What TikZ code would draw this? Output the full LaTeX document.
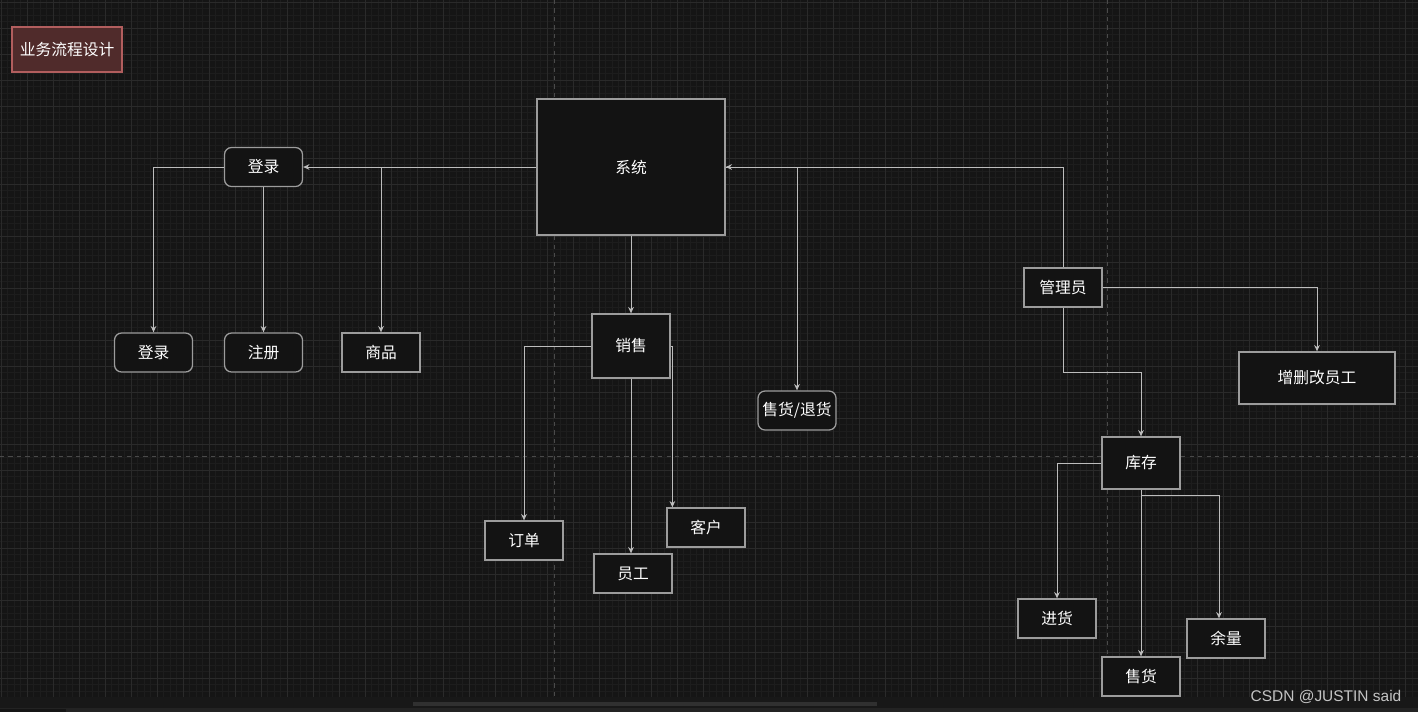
\documentclass[tikz,border=0pt]{standalone}
\usepackage{fontspec}
\newfontfamily\cjk{Noto Sans CJK SC}
\newfontfamily\wmfont{Liberation Sans}
\usepackage{xcolor}
\usepackage{tikz}
\usetikzlibrary{arrows.meta, calc}

\definecolor{canvasbg}{HTML}{151515}
\definecolor{gridminor}{HTML}{1D1D1D}
\definecolor{gridmajor}{HTML}{2A2A2A}
\definecolor{pageline}{HTML}{4A4A4A}
\definecolor{boxfill}{HTML}{131313}
\definecolor{boxline}{HTML}{9C9C9C}
\definecolor{wire}{HTML}{BDBDBD}
\definecolor{titlefill}{HTML}{502B2B}
\definecolor{titleline}{HTML}{B25E5E}
\definecolor{barbg}{HTML}{181818}
\definecolor{barthumb}{HTML}{303030}
\definecolor{barbottom}{HTML}{232323}
\definecolor{wmgray}{HTML}{C4C4C4}

\begin{document}
\begin{tikzpicture}[
    x=0.025cm, y=-0.025cm,
    font=\cjk\fontsize{11.2}{13}\selectfont,
    wh/.style 2 args={minimum width=#1*0.025cm, minimum height=#2*0.025cm},
    box/.style={rectangle, draw=boxline, line width=0.9pt, fill=boxfill, text=white, inner sep=0pt},
    roundbox/.style={box, rounded corners=5pt},
    titlebox/.style={box, draw=titleline, fill=titlefill},
    arrow/.style={-{Stealth[length=4.5pt, width=4pt]}, draw=wire, line width=0.7pt},
    link/.style={draw=wire, line width=0.7pt}
]

% canvas
\fill[canvasbg] (0,0) rectangle (1418,712);
\useasboundingbox (0,0) rectangle (1418,712);
\begin{scope}[shift={(1,2)}]
\draw[gridminor, line width=0.5pt, step=0.1625cm] (-1,-2) grid (1417,695);
\draw[gridmajor, line width=0.6pt, step=0.65cm] (-1,-2) grid (1417,695);
\end{scope}
\draw[pageline, dashed, line width=0.6pt] (554,0) -- (554,697);
\draw[pageline, dashed, line width=0.6pt] (1107,0) -- (1107,697);
\draw[pageline, dashed, line width=0.6pt] (0,456) -- (1418,456);

% scroll bar
\fill[barbg] (0,697) rectangle (1418,708);
\fill[barthumb] (413,702) rectangle (877,706);
\fill[barbottom] (0,708) rectangle (1418,712);
\fill[canvasbg] (0,708.6) rectangle (66,712);

% nodes
\node[titlebox, wh={110}{45}] (title) at (67,49.5) {业务流程设计};
\node[box, wh={188}{136}] (sys) at (631,167) {系统};

\node[roundbox, wh={78}{39}] (login) at (263.5,167) {登录};
\node[roundbox, wh={78}{39}] (login2) at (153.5,352.5) {登录};
\node[roundbox, wh={78}{39}] (reg) at (263.5,352.5) {注册};
\node[box, wh={78}{39}] (goods) at (381,352.5) {商品};

\node[box, wh={78}{64}] (sale) at (631,346) {销售};
\node[box, wh={78}{39}] (order) at (524,540.5) {订单};
\node[box, wh={78}{39}] (staff) at (633,573.5) {员工};
\node[box, wh={78}{39}] (client) at (706,527.5) {客户};
\node[roundbox, wh={78}{39}] (ret) at (797,410.5) {售货/退货};

\node[box, wh={78}{39}] (admin) at (1063,287.5) {管理员};
\node[box, wh={156}{52}] (edit) at (1317,378) {增删改员工};
\node[box, wh={78}{52}] (stock) at (1141,463) {库存};
\node[box, wh={78}{39}] (buy) at (1057,618.5) {进货};
\node[box, wh={78}{39}] (sell) at (1141,676.5) {售货};
\node[box, wh={78}{39}] (rest) at (1226,638.5) {余量};

\node[font=\wmfont\fontsize{11}{13}\selectfont, text=wmgray, anchor=base] (mark) at (1326,701.5) {CSDN @JUSTIN said};

% Arrows
\draw[arrow] (sys.west) -- (login.east);
\draw[arrow] (sys.west) -| (goods.north);
\draw[arrow] (login.west) -| (login2.north);
\draw[arrow] (login.south) -- (reg.north);
\draw[arrow] (sys.south) -- (sale.north);
\draw[arrow] (sale.west) -| (order.north);
\draw[arrow] (sale.south) -- (sale.south |- staff.north);
\draw[arrow] (sale.east) -| ([xshift=0.15cm]client.north west);
\draw[arrow] (sys.east) -| (ret.north);
\draw[arrow] (admin.north) |- (sys.east);
\draw[arrow] (admin.east) -| (edit.north);
\draw[arrow] (admin.south) -- ++(0,65) -| (stock.north);
\draw[arrow] (stock.west) -| (buy.north);
\draw[arrow] (stock.south) -- (sell.north);
\draw[arrow] (stock.south) -- ++(0,6) -| ([xshift=-0.175cm]rest.north);

\end{tikzpicture}
\end{document}
